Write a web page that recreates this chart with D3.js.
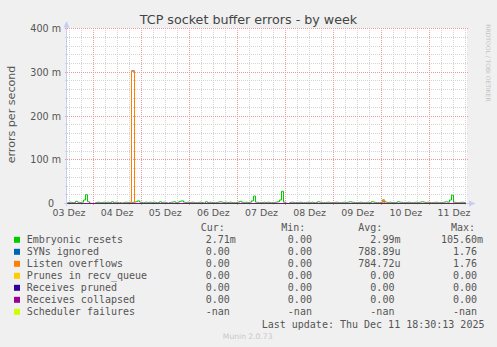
<!DOCTYPE html>
<html>
<head>
<meta charset="utf-8">
<script src="https://cdn.jsdelivr.net/npm/d3@7"></script>
<style>
  body { margin: 0; background: #f0f0f0; }
  svg { display: block; }
  text { font-family: "DejaVu Sans", sans-serif; }
  .mono text { font-family: "DejaVu Sans Mono", monospace; white-space: pre; }
</style>
</head>
<body>
<script>
// hourly samples, first one at Dec 3 11:00
var firstSample = Date.UTC(2025, 11, 3, 11);
var lastUpdate = Date.UTC(2025, 11, 11, 18, 30);

// Embryonic resets, milli-errors per second, one value per hour
var embryonic = [
  2, 3, 2, 2, 5, 3, 2, 3, 8, 20, 4, 1, 0, 0, 2, 3, 2, 2, 3, 2,
  3, 2, 4, 2, 3, 2, 2, 1, 2, 3, 2, 3, 2, 3, 4, 6, 3, 2, 2, 3,
  2, 3, 2, 3, 2, 2, 4, 2, 3, 2, 1, 2, 3, 4, 2, 3, 5, 6, 3, 2,
  3, 2, 3, 2, 2, 2, 3, 2, 1, 4, 2, 3, 2, 2, 2, 3, 4, 3, 2, 3,
  2, 3, 2, 2, 2, 3, 5, 3, 2, 3, 2, 3, 6, 17, 3, 2, 2, 2, 3, 2,
  3, 2, 2, 2, 3, 4, 8, 28, 3, 1, 0, 2, 3, 2, 2, 2, 3, 2, 2, 2,
  3, 2, 3, 2, 2, 4, 3, 2, 2, 2, 3, 2, 2, 2, 3, 2, 2, 2, 3, 2,
  3, 4, 3, 2, 2, 2, 3, 2, 2, 2, 3, 2, 4, 3, 2, 2, 2, 3, 5, 3,
  2, 3, 2, 2, 2, 4, 3, 2, 2, 2, 3, 2, 2, 2, 3, 2, 3, 4, 3, 2,
  3, 2, 2, 2, 3, 2, 2, 2, 3, 4, 3, 8, 19, 3, 2, 2, 2, 3, 2, 3
];
// SYNs ignored / Listen overflows are zero except: [from hour, to hour, milli]
var synSpikes = [[32.25, 33.75, 303], [157.5, 158.5, 8]];
var listenSpikes = [[32.25, 33.75, 303], [157.5, 158.5, 8]];

var dayLabels = ["03 Dez", "04 Dez", "05 Dez", "06 Dez", "07 Dez", "08 Dez", "09 Dez", "10 Dez", "11 Dez"];
var yTicks = [0, 0.1, 0.2, 0.3, 0.4];
var yTickLabels = ["0", "100 m", "200 m", "300 m", "400 m"];

var legendNames = ["Embryonic resets", "SYNs ignored", "Listen overflows", "Prunes in recv_queue",
  "Receives pruned", "Receives collapsed", "Scheduler failures"];
var legendColors = ["#00cc00", "#0066b3", "#ff8000", "#ffcc00", "#330099", "#990099", "#ccff00"];
var curVals = ["2.71m", "0.00", "0.00", "0.00", "0.00", "0.00", "-nan"];
var minVals = ["0.00", "0.00", "0.00", "0.00", "0.00", "0.00", "-nan"];
var avgVals = ["2.99m", "788.89u", "784.72u", "0.00", "0.00", "0.00", "-nan"];
var maxVals = ["105.60m", "1.76", "1.76", "0.00", "0.00", "0.00", "-nan"];

var W = 497, H = 347;
var svg = d3.select("body").append("svg").attr("width", W).attr("height", H);
svg.append("rect").attr("width", W).attr("height", H).attr("fill", "#f0f0f0");

var x0 = 67, x1 = 467, yTop = 28.5, yBot = 203.5;
var x = d3.scaleUtc().domain([new Date(firstSample), new Date(lastUpdate)]).range([x0, x1]);
var y = d3.scaleLinear().domain([0, 0.4]).range([yBot, yTop]);

function crisp(v) { return Math.floor(v) + 0.5; }
function hourDate(h) { return new Date(firstSample + h * 3600e3); }

svg.append("rect").attr("x", x0).attr("y", 28).attr("width", x1 - x0).attr("height", 176).attr("fill", "#fff");

// grid
var grid = svg.append("g").attr("stroke-dasharray", "1,1").attr("shape-rendering", "crispEdges");
var minorY = d3.range(1, 20).map(function(i) { return i * 0.02; }).filter(function(v, i) { return (i + 1) % 5 != 0; });
grid.selectAll(".hmin").data(minorY).enter().append("line")
  .attr("x1", x0 - 2).attr("x2", x1 + 2)
  .attr("y1", function(d) { return crisp(y(d)); }).attr("y2", function(d) { return crisp(y(d)); })
  .attr("stroke", "#d4d4d4");
var sixHours = d3.utcHour.every(6).range(x.domain()[0], x.domain()[1]).filter(function(d) { return d.getUTCHours() != 0; });
grid.selectAll(".vmin").data(sixHours).enter().append("line")
  .attr("x1", function(d) { return crisp(x(d)); }).attr("x2", function(d) { return crisp(x(d)); })
  .attr("y1", yTop - 0.5).attr("y2", yBot + 2)
  .attr("stroke", "#d4d4d4");
grid.selectAll(".hmaj").data(yTicks.slice(1)).enter().append("line")
  .attr("x1", x0 - 2).attr("x2", x1 + 2)
  .attr("y1", function(d) { return crisp(y(d)); }).attr("y2", function(d) { return crisp(y(d)); })
  .attr("stroke", "#e89a9a");
var days = d3.utcDay.range(x.domain()[0], x.domain()[1]);
grid.selectAll(".vmaj").data(days).enter().append("line")
  .attr("x1", function(d) { return crisp(x(d)); }).attr("x2", function(d) { return crisp(x(d)); })
  .attr("y1", yTop - 0.5).attr("y2", yBot + 2)
  .attr("stroke", "#e89a9a");

// axes
var axisColor = "#c6cef4";
svg.append("line").attr("x1", 66.5).attr("x2", 66.5).attr("y1", 24).attr("y2", 206)
  .attr("stroke", axisColor);
svg.append("line").attr("x1", 64).attr("x2", 471).attr("y1", 203.5).attr("y2", 203.5)
  .attr("stroke", axisColor);
svg.append("path").attr("d", "M63.5,27.5L66.5,21L69.5,27.5Z").attr("fill", axisColor);
svg.append("path").attr("d", "M469,200.5L475.5,203.5L469,206.5Z").attr("fill", axisColor);

// tick labels
svg.append("g").selectAll("text").data(yTicks).enter().append("text")
  .attr("x", 61).attr("y", function(d) { return y(d) + 3.6; })
  .attr("dx", function(d, i) { return i == 0 ? -7 : 0; })
  .attr("text-anchor", "end").attr("font-size", 9.6).attr("fill", "#555")
  .text(function(d, i) { return yTickLabels[i]; });

svg.append("g").selectAll("text").data(dayLabels).enter().append("text")
  .attr("x", function(d, i) { return x(new Date(Date.UTC(2025, 11, 3 + i, 12))); })
  .attr("y", 216.3)
  .attr("text-anchor", "middle").attr("font-size", 9.4).attr("fill", "#555")
  .text(function(d) { return d; });

svg.append("text").attr("x", 248.5).attr("y", 23.5).attr("text-anchor", "middle")
  .attr("font-size", 12.7).attr("fill", "#444").text("TCP socket buffer errors - by week");

svg.append("text").attr("transform", "translate(15,114.5) rotate(-90)").attr("text-anchor", "middle")
  .attr("font-size", 11.1).attr("fill", "#555").text("errors per second");

svg.append("text").attr("transform", "translate(486,63) rotate(90)").attr("text-anchor", "middle")
  .attr("font-size", 6).attr("fill", "#c4c4c4").text("RRDTOOL / TOBI OETIKER");

// series
var lastHour = embryonic.length - 1;
function spikeSeries(spikes) {
  var pts = [{ t: hourDate(0), v: 0 }];
  spikes.forEach(function(s) {
    pts.push({ t: hourDate(s[0]), v: s[2] / 1000 });
    pts.push({ t: hourDate(s[1]), v: 0 });
  });
  pts.push({ t: hourDate(lastHour), v: 0 });
  return pts;
}
function flatZero() { return [{ t: hourDate(0), v: 0 }, { t: hourDate(lastHour), v: 0 }]; }
var series = [
  embryonic.map(function(v, h) { return { t: hourDate(h), v: v / 1000 }; }),
  spikeSeries(synSpikes),
  spikeSeries(listenSpikes),
  flatZero(), flatZero(), flatZero()
];
var line = d3.line()
  .x(function(d) { return Math.floor(x(d.t)) + 0.5; })
  .y(function(d) { return y(d.v); })
  .curve(d3.curveStepAfter);
svg.append("g").selectAll("path").data(series).enter().append("path")
  .attr("d", line).attr("fill", "none").attr("stroke-width", 1)
  .attr("stroke", function(d, i) { return legendColors[i]; });

// legend
function field(v) {
  var s = /[a-zA-Z]$/.test(v) && v != "-nan" ? v : v + " ";
  while (s.length < 7) s = " " + s;
  return s;
}
var leg = svg.append("g").attr("class", "mono").attr("font-size", 10).attr("fill", "#555");
var rowY = 243.3;
leg.append("text").attr("x", 200.7).attr("y", rowY - 12).text("Cur:");
leg.append("text").attr("x", 281.2).attr("y", rowY - 12).text("Min:");
leg.append("text").attr("x", 358.3).attr("y", rowY - 12).text("Avg:");
leg.append("text").attr("x", 451).attr("y", rowY - 12).text("Max:");
var rows = leg.selectAll(".row").data(legendNames).enter().append("g")
  .attr("transform", function(d, i) { return "translate(0," + (rowY + i * 12) + ")"; });
rows.append("rect").attr("x", 14).attr("y", -6.5).attr("width", 6).attr("height", 6)
  .attr("fill", function(d, i) { return legendColors[i]; });
rows.append("text").attr("x", 26.7).text(function(d) { return d; });
rows.append("text").attr("x", 193.7).text(function(d, i) { return field(curVals[i]); });
rows.append("text").attr("x", 275.8).text(function(d, i) { return field(minVals[i]); });
rows.append("text").attr("x", 358.3).text(function(d, i) { return field(avgVals[i]); });
rows.append("text").attr("x", 441).text(function(d, i) { return field(maxVals[i]); });

leg.append("text").attr("x", 261.7).attr("y", rowY + 7 * 12 + 0.5).text("Last update: Thu Dec 11 18:30:13 2025");

svg.append("text").attr("x", 247.7).attr("y", 338.5).attr("text-anchor", "middle")
  .attr("font-size", 7.6).attr("fill", "#c8c8c8").text("Munin 2.0.73");
</script>
</body>
</html>
